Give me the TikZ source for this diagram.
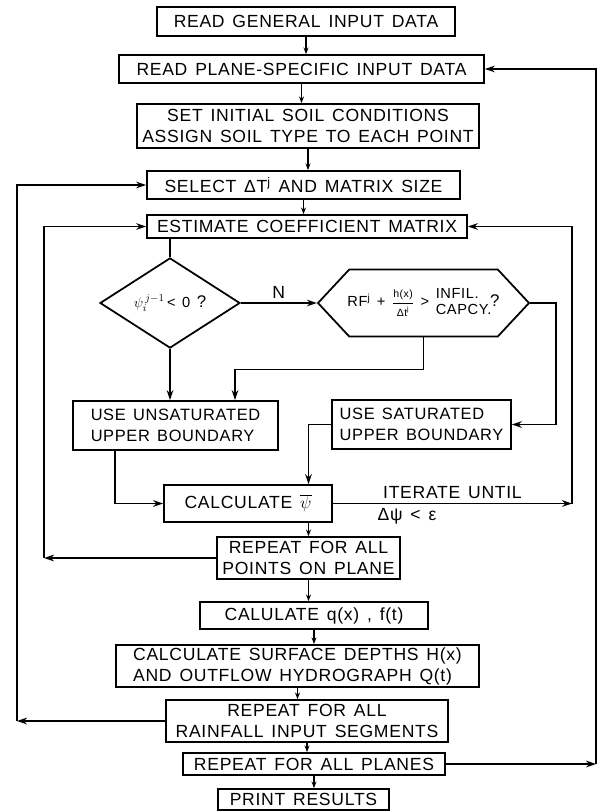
\documentclass[tikz,border=0pt]{standalone}
\usepackage{fontspec}
\setmainfont{Liberation Sans}[LetterSpace=4,WordSpace=1.4]
\usetikzlibrary{arrows.meta,shapes.geometric,shapes.symbols}
\newcommand{\flowfont}{\fontsize{15pt}{18pt}\selectfont}
\newcommand{\midflow}{\fontsize{14pt}{18pt}\selectfont}
\newcommand{\smallflow}{\fontsize{12.5pt}{14pt}\selectfont}

\begin{document}
\begin{tikzpicture}[x=0.03cm,y=-0.03cm,
  line width=1.5pt,
  box/.style={draw,inner sep=2pt,align=center,font=\flowfont},
  lbox/.style={box,align=left,font=\midflow},
  decide/.style={draw,diamond,inner sep=0pt,font=\smallflow,minimum width=4.2cm,minimum height=2.43cm},
  hexa/.style={draw,signal,signal to=east and west,signal pointer angle=94,inner xsep=-0.3cm,inner ysep=0pt,font=\smallflow,minimum width=6.33cm,minimum height=2.01cm},
  arr/.style={-{Stealth[length=3mm,width=2mm]}},
  sarr/.style={-{Stealth[length=2mm,width=1.5mm]}},
  lab/.style={font=\flowfont}
]
\useasboundingbox (0,0) rectangle (599,811);

% main column
\node[box,minimum width=8.94cm,minimum height=0.87cm] (gen) at (306,21.5) {READ GENERAL INPUT DATA};
\node[box,minimum width=10.95cm,minimum height=0.84cm] (plane) at (301.5,69) {READ PLANE-SPECIFIC INPUT DATA};
\node[box,minimum width=10.26cm,minimum height=1.32cm] (soil) at (308,126) {SET INITIAL SOIL CONDITIONS\\ASSIGN SOIL TYPE TO EACH POINT};
\node[box,minimum width=9.39cm,minimum height=0.84cm] (select) at (303.5,185) {SELECT ΔT\textsuperscript{j} AND MATRIX SIZE};
\node[box,minimum width=9.6cm,minimum height=0.69cm] (estim) at (307,226.5) {ESTIMATE COEFFICIENT MATRIX};

% tests
\node[decide] (dia) at (170,303) {$\psi_i^{\,j-1}$\,< 0 {\Large ?}};
\node[hexa] (hex) at (423.5,303) {RF\textsuperscript{j} + $\displaystyle\frac{\mbox{\small h(x)}}{\mbox{\small Δt\textsuperscript{j}}}$ > \begin{tabular}{@{}l@{}}INFIL.\\CAPCY.\end{tabular}\hspace{-1pt}{\Large ?}};

\node[lbox,minimum width=6.15cm,minimum height=1.47cm] (unsat) at (175.5,425.5) {USE UNSATURATED\\UPPER BOUNDARY};
\node[lbox,minimum width=5.37cm,minimum height=1.47cm] (sat) at (421.5,424.5) {USE SATURATED\\UPPER BOUNDARY};
\node[box,minimum width=5.04cm,minimum height=1.11cm] (calc) at (248,503.5) {CALCULATE {\Large$\overline{\psi}$}};
\node[box,minimum width=5.49cm,minimum height=1.26cm] (points) at (308.5,558) {REPEAT FOR ALL\\POINTS ON PLANE};
\node[box,minimum width=6.84cm,minimum height=0.81cm] (qf) at (314,615.5) {CALULATE q(x) , f(t)};
\node[lbox,font=\flowfont,minimum width=10.89cm,minimum height=1.26cm] (surf) at (297.5,666) {CALCULATE SURFACE DEPTHS H(x)\\AND OUTFLOW HYDROGRAPH Q(t)};
\node[box,minimum width=8.46cm,minimum height=1.26cm] (rain) at (307,721) {REPEAT FOR ALL\\RAINFALL INPUT SEGMENTS};
\node[box,minimum width=7.86cm,minimum height=0.66cm] (planes) at (314,764) {REPEAT FOR ALL PLANES};
\node[box,minimum width=5.13cm,minimum height=0.63cm] (print) at (303.5,799.5) {PRINT RESULTS};

% loop corners
\coordinate (rloop) at (572,503.5);
\coordinate (lloop) at (44,558);
\coordinate (oloop) at (17,721);
\coordinate (pend) at (596,764);

% straight down the column
\draw[sarr] (gen.south) -- (gen.south |- plane.north);
\draw[sarr] (plane.south) -- (plane.south |- soil.north);
\draw[sarr] (soil.south) -- (soil.south |- select.north);
\draw[sarr] (select.south) -- (select.south |- estim.north);
\draw (dia.north |- estim.south) -- (dia.north);
\draw[arr] (dia.east) -- node[lab,above]{N} (hex.west);
\draw[arr] (dia.south) -- (dia.south |- unsat.north);
\draw[arr] (hex.south) -- ++(0,32) -| ([xshift=1.785cm]unsat.north);
\draw[arr] (hex.east) -- ++(26,0) |- (sat.east);
\draw[arr] (sat.west) -| (points.north |- calc.north);
\draw[arr] ([xshift=-1.815cm]unsat.south) |- (calc.west);
\draw[arr] (calc.east) -- node[lab,above]{ITERATE UNTIL} node[lab,below,pos=0.31]{Δψ < ε} (rloop);
\draw[arr] (rloop) |- (estim.east);
\draw[sarr] (points.north |- calc.south) -- (points.north);
\draw[arr] (points.west) -- (lloop);
\draw[arr] (lloop) |- (estim.west);
\draw[sarr] (points.south) -- (points.south |- qf.north);
\draw[sarr] (qf.south) -- (qf.south |- surf.north);
\draw[sarr] (surf.south) -- (surf.south |- rain.north);
\draw[arr] (rain.west) -- (oloop);
\draw[arr] (oloop) |- (select.west);
\draw[sarr] (rain.south) -- (rain.south |- planes.north);
\draw[arr] (planes.east) -- (pend);
\draw[arr] (pend) |- (plane.east);
\draw[sarr] (planes.south) -- (planes.south |- print.north);
\end{tikzpicture}
\end{document}
